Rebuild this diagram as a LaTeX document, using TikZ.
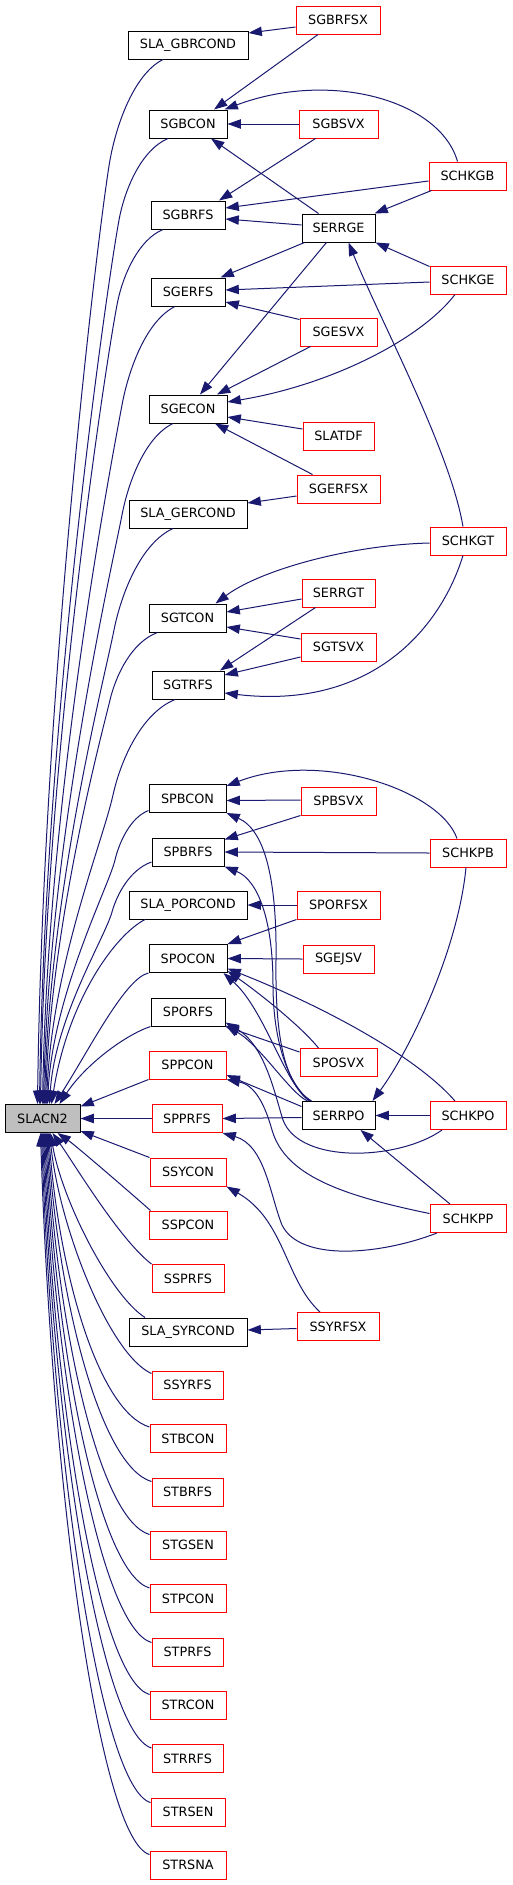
\documentclass[tikz,border=0pt]{standalone}
\usepackage{fontspec}
\setmainfont{DejaVu Sans}
\usetikzlibrary{arrows.meta,calc}
\definecolor{edgec}{RGB}{25,25,112}
\definecolor{fillg}{RGB}{191,191,191}
\begin{document}
\begin{tikzpicture}[x=0.75pt,y=-0.75pt,
 box/.style={draw=black,line width=0.75pt,rectangle,inner sep=0pt,minimum height=21pt,font=\fontsize{9.6}{11}\selectfont,fill=white},
 rbox/.style={box,draw=red},
 wd/.style={minimum width=#1*0.75pt},
 edge/.style={draw=edgec,line width=0.75pt,-{Triangle[length=10pt,width=7pt]}}]
\useasboundingbox (0,0) rectangle (512,1885);
% nodes
\node[box,wd=75,fill=fillg] (slacn) at (42.5,1118.5) {SLACN2};
\node[rbox,wd=84] (sgbrfsx) at (338,20) {SGBRFSX};
\node[box,wd=120] (slagbr) at (188,45) {SLA\_GBRCOND};
\node[box,wd=78] (sgbcon) at (188,124) {SGBCON};
\node[rbox,wd=79] (sgbsvx) at (338.5,124) {SGBSVX};
\node[rbox,wd=77] (schkgb) at (467.5,176) {SCHKGB};
\node[box,wd=74] (sgbrfs) at (188,215) {SGBRFS};
\node[box,wd=73] (serrge) at (338.5,228) {SERRGE};
\node[box,wd=74] (sgerfs) at (188,292) {SGERFS};
\node[rbox,wd=76] (schkge) at (468,280) {SCHKGE};
\node[rbox,wd=77] (sgesvx) at (338.5,332) {SGESVX};
\node[box,wd=78] (sgecon) at (188,409) {SGECON};
\node[rbox,wd=71] (slatdf) at (338.5,436) {SLATDF};
\node[rbox,wd=83] (sgerfsx) at (338.5,489) {SGERFSX};
\node[box,wd=118] (slager) at (188,514) {SLA\_GERCOND};
\node[rbox,wd=76] (schkgt) at (468,541) {SCHKGT};
\node[rbox,wd=73] (serrgt) at (338.5,593) {SERRGT};
\node[box,wd=77] (sgtcon) at (187.5,618) {SGTCON};
\node[rbox,wd=75] (sgtsvx) at (338.5,647) {SGTSVX};
\node[box,wd=72] (sgtrfs) at (188,685) {SGTRFS};
\node[box,wd=77] (spbcon) at (187.5,798.5) {SPBCON};
\node[rbox,wd=75] (spbsvx) at (338.5,801) {SPBSVX};
\node[box,wd=72] (spbrfs) at (188,852) {SPBRFS};
\node[rbox,wd=76] (schkpb) at (468,853) {SCHKPB};
\node[box,wd=118] (slapor) at (188,905) {SLA\_PORCOND};
\node[rbox,wd=83] (sporfsx) at (338.5,905) {SPORFSX};
\node[box,wd=78] (spocon) at (188,958.5) {SPOCON};
\node[rbox,wd=71] (sgejsv) at (338.5,959) {SGEJSV};
\node[box,wd=74] (sporfs) at (188,1012) {SPORFS};
\node[rbox,wd=77] (sposvx) at (338.5,1062.5) {SPOSVX};
\node[rbox,wd=77] (sppcon) at (187.5,1065) {SPPCON};
\node[rbox,wd=70] (spprfs) at (187,1118.5) {SPPRFS};
\node[box,wd=73] (serrpo) at (338.5,1115.5) {SERRPO};
\node[rbox,wd=76] (schkpo) at (468,1115.5) {SCHKPO};
\node[rbox,wd=76] (ssycon) at (188,1172) {SSYCON};
\node[rbox,wd=76] (schkpp) at (468,1218.5) {SCHKPP};
\node[rbox,wd=78] (sspcon) at (188,1225) {SSPCON};
\node[rbox,wd=72] (ssprfs) at (188,1278.5) {SSPRFS};
\node[rbox,wd=82] (ssyrfsx) at (338,1326.5) {SSYRFSX};
\node[box,wd=118] (slasyr) at (188,1332) {SLA\_SYRCOND};
\node[rbox,wd=71] (ssyrfs) at (187.5,1385) {SSYRFS};
\node[rbox,wd=76] (stbcon) at (188,1438.5) {STBCON};
\node[rbox,wd=71] (stbrfs) at (187.5,1492) {STBRFS};
\node[rbox,wd=76] (stgsen) at (188,1545) {STGSEN};
\node[rbox,wd=76] (stpcon) at (188,1598.5) {STPCON};
\node[rbox,wd=71] (stprfs) at (187.5,1652) {STPRFS};
\node[rbox,wd=76] (strcon) at (188,1705) {STRCON};
\node[rbox,wd=71] (strrfs) at (187.5,1758.5) {STRRFS};
\node[rbox,wd=74] (strsen) at (188,1812) {STRSEN};
\node[rbox,wd=76] (strsna) at (188,1865) {STRSNA};
% edges among callers
\draw[edge] ($(sgbrfsx.west)+(0,7)$) -- ($(slagbr.east)+(0,-12)$);
\draw[edge] ($(sgbrfsx.south)+(-20,0)$) -- ($(sgbcon.north)+(26,0)$);
\draw[edge] ($(schkgb.north)+(-10,0)$) .. controls (440,100) and (330,70) .. ($(sgbcon.north east)+(-3,0)$);
\draw[edge] (sgbsvx.west) -- (sgbcon.east);
\draw[edge] ($(sgbsvx.south)+(-23,0)$) -- ($(sgbrfs.north)+(31,0)$);
\draw[edge] ($(serrge.north)+(-20,0)$) -- ($(sgbcon.south)+(23,0)$);
\draw[edge] ($(schkgb.west)+(0,5)$) -- ($(sgbrfs.east)+(0,-7)$);
\draw[edge] ($(schkgb.south west)+(3,0)$) -- ($(serrge.north east)+(-1,0)$);
\draw[edge] ($(serrge.west)+(0,-3)$) -- ($(sgbrfs.east)+(0,4)$);
\draw[edge] ($(serrge.south west)+(3,0)$) -- ($(sgerfs.north east)+(-5,0)$);
\draw[edge] ($(serrge.south)+(-12,0)$) -- ($(sgecon.north)+(12,0)$);
\draw[edge] ($(schkge.north west)+(0,1)$) -- (serrge.south east);
\draw[edge] ($(schkge.west)+(0,2)$) -- ($(sgerfs.east)+(0,-2)$);
\draw[edge] ($(sgesvx.north west)+(0,2)$) -- ($(sgerfs.east)+(0,10)$);
\draw[edge] ($(schkgt.north)+(-5,0)$) .. controls (450,450) and (380,320) .. ($(serrge.south)+(10,0)$);
\draw[edge] ($(schkge.south)+(-13,0)$) .. controls (420,340) and (330,385) .. ($(sgecon.east)+(0,-7)$);
\draw[edge] ($(sgesvx.south)+(-28,0)$) -- ($(sgecon.north)+(29,0)$);
\draw[edge] ($(slatdf.west)+(0,-7)$) -- ($(sgecon.east)+(0,8)$);
\draw[edge] ($(sgerfsx.north)+(-26,0)$) -- ($(sgecon.south)+(27,0)$);
\draw[edge] ($(sgerfsx.west)+(0,7)$) -- ($(slager.east)+(0,-11)$);
\draw[edge] ($(schkgt.west)+(0,2)$) .. controls (350,545) and (260,570) .. ($(sgtcon.north)+(28,0)$);
\draw[edge] ($(serrgt.west)+(0,6)$) -- ($(sgtcon.east)+(0,-6)$);
\draw[edge] ($(serrgt.south)+(-23,0)$) -- ($(sgtrfs.north)+(32,0)$);
\draw[edge] ($(sgtsvx.west)+(0,-8)$) -- ($(sgtcon.east)+(0,9)$);
\draw[edge] ($(sgtsvx.west)+(0,10)$) -- ($(sgtrfs.east)+(0,-10)$);
\draw[edge] ($(schkgt.south)+(-5,0)$) .. controls (440,630) and (370,710) .. ($(sgtrfs.east)+(0,8)$);
\draw[edge] ($(schkpb.north)+(-11,0)$) .. controls (440,790) and (320,750) .. ($(spbcon.north east)+(0,2)$);
\draw[edge] ($(spbsvx.west)+(0,-1)$) -- ($(spbcon.east)+(0,2)$);
\draw[edge] (spbsvx.south west) -- ($(spbrfs.north east)+(0,2)$);
\draw[edge] ($(serrpo.north west)+(10,0)$) .. controls (285,1085) and (275,1040) .. (276,960) .. controls (277,880) and (265,830) .. (spbcon.south east);
\draw[edge] ($(serrpo.north west)+(9,0)$) .. controls (288,1085) and (273,1040) .. (273,985) .. controls (273,920) and (258,880) .. (spbrfs.south east);
\draw[edge] (schkpb.west) -- (spbrfs.east);
\draw[edge] (sporfsx.west) -- (slapor.east);
\draw[edge] (sporfsx.south west) -- (spocon.north east);
\draw[edge] (sgejsv.west) -- (spocon.east);
\draw[edge] ($(schkpb.south)+(-2,0)$) .. controls (458,950) and (410,1050) .. ($(serrpo.north east)+(-3,0)$);
\draw[edge] ($(sposvx.north)+(-20,0)$) .. controls (300,1025) and (255,990) .. ($(spocon.south east)+(0,-2)$);
\draw[edge] ($(sposvx.north west)+(0,4)$) -- (sporfs.south east);
\draw[edge] ($(schkpo.north)+(-13,0)$) .. controls (415,1055) and (320,1005) .. ($(spocon.east)+(0,10)$);
\draw[edge] ($(serrpo.north west)+(8,0)$) .. controls (285,1085) and (265,1010) .. ($(spocon.south east)+(-4,0)$);
\draw[edge] ($(serrpo.north west)+(6,0)$) .. controls (290,1093) and (260,1045) .. ($(sporfs.south east)+(0,-1)$);
\draw[edge] ($(serrpo.west)+(0,-9)$) -- ($(sppcon.east)+(0,10)$);
\draw[edge] ($(serrpo.west)+(0,2)$) -- (spprfs.east);
\draw[edge] (schkpo.west) -- (serrpo.east);
\draw[edge] ($(schkpp.north)+(-18,0)$) -- ($(serrpo.south)+(22,0)$);
\draw[edge] ($(schkpo.south)+(-26,0)$) .. controls (400,1160) and (300,1165) .. (283,1120) .. controls (275,1095) and (265,1045) .. ($(sporfs.south east)+(0,-4)$);
\draw[edge] ($(schkpp.west)+(0,-5)$) .. controls (340,1195) and (285,1175) .. (272,1130) .. controls (265,1105) and (255,1085) .. (sppcon.south east);
\draw[edge] ($(schkpp.south)+(-31,0)$) .. controls (380,1255) and (300,1262) .. (282,1225) .. controls (270,1195) and (265,1145) .. (spprfs.south east);
\draw[edge] ($(ssyrfsx.north)+(-18,0)$) .. controls (285,1280) and (285,1220) .. (ssycon.south east);
\draw[edge] ($(ssyrfsx.west)+(0,2)$) -- ($(slasyr.east)+(0,-2)$);
% edges into SLACN2 from above
\draw[edge] ($(slagbr.south)+(-25,0)$) .. controls (133.9,74.2) and (116.4,124.6) .. (110,160) .. controls (100.5,212.5) and (43,679) .. ($(slacn.north west)+(33,0)$);
\draw[edge] ($(sgbcon.south)+(-20,0)$) .. controls (141.6,149.6) and (125.8,188) .. (120,215) .. controls (111.4,255) and (45,704) .. ($(slacn.north west)+(35,0)$);
\draw[edge] ($(sgbrfs.south)+(-25,0)$) .. controls (138.3,239.7) and (123.4,275.2) .. (118,300) .. controls (109.9,336.9) and (46,742) .. ($(slacn.north west)+(36,0)$);
\draw[edge] ($(sgerfs.south)+(-13,0)$) .. controls (145.9,320.9) and (128.4,370.4) .. (122,405) .. controls (112.5,456.5) and (48,789.5) .. ($(slacn.north west)+(38,0)$);
\draw[edge] ($(sgecon.south)+(-15,0)$) .. controls (145,436.8) and (128.1,482.8) .. (122,515) .. controls (112.8,562.8) and (49,839) .. ($(slacn.north west)+(39,0)$);
\draw[edge] ($(slager.south)+(-15,0)$) .. controls (140.6,543.3) and (121.1,594.3) .. (114,630) .. controls (103.4,683) and (50,890.7) .. ($(slacn.north west)+(40,0)$);
\draw[edge] ($(sgtcon.south)+(-30,0)$) .. controls (131.2,642.2) and (115.6,676.2) .. (110,700) .. controls (101.5,735.4) and (51,922.2) .. ($(slacn.north west)+(41,0)$);
\draw[edge] ($(sgtrfs.south)+(-13,0)$) .. controls (140.9,713.4) and (120.4,761.4) .. (113,795) .. controls (101.8,844.9) and (52,965) .. ($(slacn.north west)+(42,0)$);
\draw[edge] ($(spbcon.west)+(0,12)$) .. controls (130.3,817.5) and (119.1,842.5) .. (115,860) .. controls (108.9,886) and (53,994.2) .. ($(slacn.north west)+(43,0)$);
\draw[edge] ($(spbrfs.west)+(0,10)$) .. controls (130,869.5) and (116.8,894.5) .. (112,912) .. controls (104.8,938) and (55,1017.6) .. ($(slacn.north west)+(45,0)$);
\draw[edge] ($(slapor.south)+(-43,0)$) .. controls (115,935) and (68,1000) .. ($(slacn.north west)+(47,0)$);
\draw[edge] (spocon.south west) .. controls (125,978) and (88,1052) .. ($(slacn.north west)+(50,0)$);
\draw[edge] (sporfs.south west) .. controls (125,1035) and (85,1065) .. ($(slacn.north west)+(55,0)$);
\draw[edge] (sppcon.south west) -- ($(slacn.east)+(0,-12)$);
\draw[edge] (spprfs.west) -- (slacn.east);
% edges into SLACN2 from below
\draw[edge] (ssycon.north west) -- ($(slacn.south east)+(0,-2)$);
\draw[edge] ($(sspcon.north west)+(2,0)$) .. controls (125,1188) and (75,1145) .. ($(slacn.south west)+(53,0)$);
\draw[edge] (ssprfs.north west) .. controls (120,1240) and (75,1165) .. ($(slacn.south west)+(48,0)$);
\draw[edge] ($(slasyr.north)+(-43,0)$) .. controls (110,1295) and (62,1200) .. ($(slacn.south west)+(46,0)$);
\draw[edge] ($(ssyrfs.north west)+(0,3)$) .. controls (110,1355) and (60,1230) .. ($(slacn.south west)+(45,0)$);
\draw[edge] ($(stbcon.north west)+(0,3)$) .. controls (100,1412) and (60,1280) .. ($(slacn.south west)+(44,0)$);
\draw[edge] ($(stbrfs.north west)+(0,4)$) .. controls (102,1467) and (59,1307) .. ($(slacn.south west)+(43,0)$);
\draw[edge] ($(stgsen.north west)+(0,4)$) .. controls (100,1520) and (58,1334) .. ($(slacn.south west)+(42,0)$);
\draw[edge] ($(stpcon.north west)+(0,4)$) .. controls (100,1573) and (57,1360) .. ($(slacn.south west)+(41,0)$);
\draw[edge] ($(stprfs.north west)+(0,5)$) .. controls (102,1628) and (56,1388) .. ($(slacn.south west)+(40,0)$);
\draw[edge] ($(strcon.north west)+(0,4)$) .. controls (100,1680) and (55,1414) .. ($(slacn.south west)+(39,0)$);
\draw[edge] ($(strrfs.north west)+(0,4)$) .. controls (102,1733) and (54,1440) .. ($(slacn.south west)+(38,0)$);
\draw[edge] ($(strsen.north west)+(0,5)$) .. controls (101,1788) and (53,1468) .. ($(slacn.south west)+(37,0)$);
\draw[edge] ($(strsna.north west)+(0,4)$) .. controls (100,1840) and (52,1494) .. ($(slacn.south west)+(36,0)$);
\end{tikzpicture}
\end{document}
